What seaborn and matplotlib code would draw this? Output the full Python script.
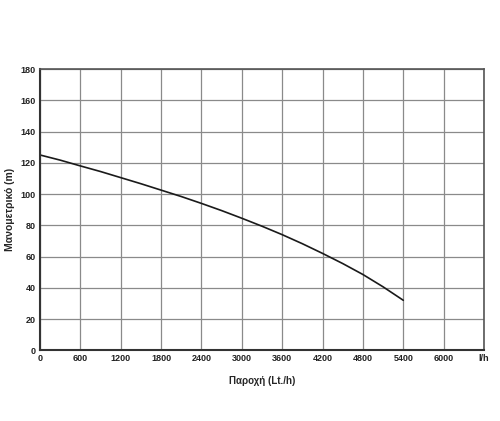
import numpy as np
import pandas as pd
import seaborn as sns
from matplotlib import pyplot as plt

flow = [0, 300, 600, 900, 1200, 1500, 1800, 2100, 2400, 2700,
        3000, 3300, 3600, 3900, 4200, 4500, 4800, 5100, 5400]
head = [125, 121.7, 118, 114.4, 110.5, 106.6, 102.5, 98.4, 94, 89.4,
        84.5, 79.4, 74, 68.2, 62, 55.5, 48.5, 40.6, 32]
x_ticks = [0, 600, 1200, 1800, 2400, 3000, 3600, 4200, 4800, 5400, 6000, 6600]
x_labels = ["0", "600", "1200", "1800", "2400", "3000", "3600", "4200", "4800", "5400", "6000", "l/h"]
y_ticks = [0, 20, 40, 60, 80, 100, 120, 140, 160, 180]

sns.set_style("white")
plt.rcParams['font.family'] = ['Liberation Sans', 'DejaVu Sans']

df = pd.DataFrame({"flow": flow, "head": head})

fig, ax = plt.subplots(figsize=(5, 4.21), dpi=100)
fig.subplots_adjust(left=0.08, right=0.968, top=0.836, bottom=0.168)

ax.grid(True, color="#8a8a8a", linewidth=0.9)
ax.set_axisbelow(True)
sns.lineplot(data=df, x="flow", y="head", ax=ax, color="#1a1a1a", linewidth=1.2)

ax.set_xlim(0, 6600)
ax.set_ylim(0, 180)
ax.set_xticks(x_ticks)
ax.set_xticklabels(x_labels)
ax.set_yticks(y_ticks)
ax.tick_params(length=0, labelsize=6.5, pad=3)
for lbl in ax.get_xticklabels() + ax.get_yticklabels():
    lbl.set_fontweight("bold")
    lbl.set_color("#222222")

for side in ["top", "right"]:
    ax.spines[side].set_color("#555555")
    ax.spines[side].set_linewidth(1.2)
for side in ["left", "bottom"]:
    ax.spines[side].set_color("#333333")
    ax.spines[side].set_linewidth(1.5)

ax.set_xlabel("Παροχή (Lt./h)", fontsize=7, fontweight="bold", labelpad=9)
ax.set_ylabel("Μανομετρικό (m)", fontsize=7.5, fontweight="bold", labelpad=4)

plt.savefig("out.png", dpi=100)
